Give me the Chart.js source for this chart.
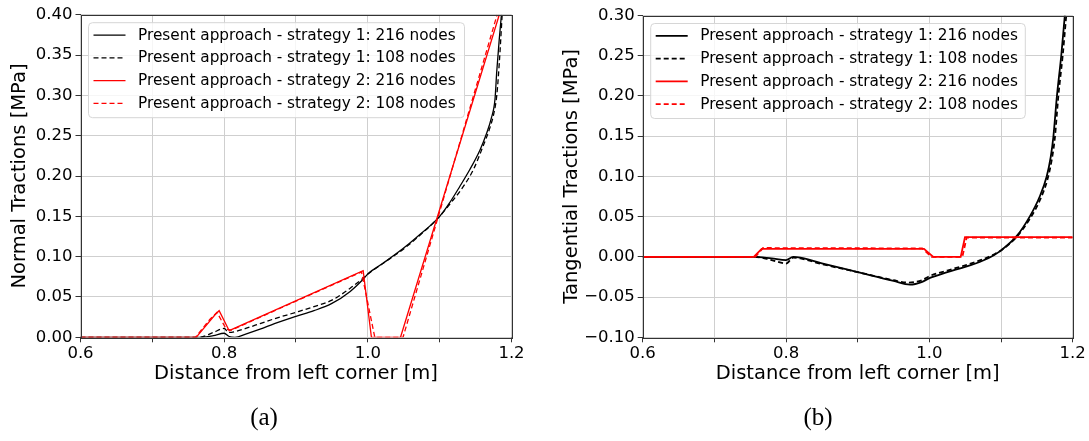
<!DOCTYPE html>
<html><head><meta charset="utf-8">
<script src="https://cdn.jsdelivr.net/npm/chart.js@4/dist/chart.umd.min.js"></script>
<style>
html,body{margin:0;padding:0;background:#fff;}
#wrap{position:relative;width:1089px;height:441px;overflow:hidden;}
canvas{position:absolute;top:0;}
</style></head><body>
<div id="wrap">
<canvas id="cA" width="545" height="441" style="left:0px"></canvas>
<canvas id="cB" width="544" height="441" style="left:545px"></canvas>
</div>
<script>
// ---------- labels ----------
const seriesLabels = [
  "Present approach - strategy 1: 216 nodes",
  "Present approach - strategy 1: 108 nodes",
  "Present approach - strategy 2: 216 nodes",
  "Present approach - strategy 2: 108 nodes"
];
const xTitle = "Distance from left corner [m]";
const yTitleA = "Normal Tractions [MPa]";
const yTitleB = "Tangential Tractions [MPa]";
const captionA = "(a)";
const captionB = "(b)";

// ---------- (a) Normal tractions ----------
const nS1_216_x = [0.6, 0.77, 0.785, 0.8, 0.807, 0.815, 0.83, 0.85, 0.87, 0.9, 0.925, 0.95, 0.975, 0.9935, 1.0, 1.021, 1.049, 1.068, 1.1, 1.114, 1.128, 1.142, 1.156, 1.165, 1.172, 1.177, 1.1795, 1.183, 1.186];
const nS1_216_y = [0, 0, 0.002, 0.005, 0.001, 0, 0.004, 0.01, 0.017, 0.026, 0.033, 0.042, 0.0566, 0.072, 0.0785, 0.0917, 0.110, 0.124, 0.15, 0.167, 0.187, 0.208, 0.232, 0.252, 0.272, 0.295, 0.33, 0.37, 0.40];
const nS1_108_x = [0.6, 0.765, 0.785, 0.8, 0.806, 0.815, 0.83, 0.85, 0.87, 0.9, 0.925, 0.95, 0.975, 0.993, 1.0, 1.021, 1.049, 1.068, 1.1, 1.114, 1.133, 1.147, 1.16, 1.17, 1.176, 1.1795, 1.183, 1.187];
const nS1_108_y = [0, 0, 0.006, 0.011, 0.006, 0.007, 0.011, 0.017, 0.023, 0.031, 0.038, 0.046, 0.0606, 0.073, 0.0785, 0.0915, 0.109, 0.123, 0.15, 0.165, 0.187, 0.208, 0.236, 0.26, 0.28, 0.30, 0.34, 0.40];
const nS2_216_x = [0.6, 0.761, 0.787, 0.793, 0.807, 0.9935, 1.005, 1.0455, 1.183];
const nS2_216_y = [0, 0, 0.0277, 0.033, 0.0082, 0.0826, 0, 0, 0.40];
const nS2_108_x = [0.6, 0.76, 0.78, 0.79, 0.803, 0.81, 0.9912, 1.0097, 1.049, 1.18];
const nS2_108_y = [0, 0, 0.022, 0.031, 0.01, 0.009, 0.081, 0, 0, 0.40];

// ---------- (b) Tangential tractions ----------
const tS1_216_x = [0.6, 0.755, 0.78, 0.8, 0.81, 0.82, 0.85, 0.9, 0.95, 0.973, 0.99, 1.0, 1.025, 1.05, 1.075, 1.09, 1.1, 1.122, 1.14, 1.154, 1.1637, 1.1693, 1.173, 1.178, 1.184, 1.189];
const tS1_216_y = [0, 0, -0.002, -0.004, 0, -0.001, -0.008, -0.019, -0.030, -0.0345, -0.031, -0.0265, -0.019, -0.0125, -0.0045, 0.002, 0.008, 0.026, 0.05, 0.075, 0.10, 0.124, 0.149, 0.20, 0.25, 0.30];
const tS1_108_x = [0.6, 0.755, 0.78, 0.8, 0.81, 0.82, 0.85, 0.9, 0.95, 0.97, 0.99, 1.0, 1.025, 1.05, 1.075, 1.09, 1.1, 1.122, 1.14, 1.155, 1.165, 1.171, 1.175, 1.18, 1.186, 1.191];
const tS1_108_y = [0, 0, -0.004, -0.0083, -0.001, -0.002, -0.009, -0.019, -0.029, -0.032, -0.029, -0.024, -0.017, -0.0105, -0.003, 0.003, 0.008, 0.025, 0.047, 0.072, 0.097, 0.122, 0.147, 0.20, 0.25, 0.30];
const tS2_216_x = [0.6, 0.755, 0.766, 0.9925, 1.0055, 1.0437, 1.0497, 1.2];
const tS2_216_y = [0, 0, 0.01, 0.01, 0, 0, 0.0244, 0.0244];
const tS2_108_x = [0.6, 0.757, 0.768, 0.99, 1.003, 1.046, 1.052, 1.2];
const tS2_108_y = [0, 0, 0.011, 0.0105, 0, 0, 0.024, 0.024];

// ---------- axis ranges / ticks ----------
const xMin = 0.6, xMax = 1.2, xStep = 0.1;
const yMinA = 0, yMaxA = 0.4, yMinB = -0.1, yMaxB = 0.3, yStep = 0.05;

const pts = (xs, ys) => xs.map((x, i) => ({x: x, y: ys[i]}));

function makeDatasets(sets, lw) {
  const colors = ['#000000', '#000000', '#ff0000', '#ff0000'];
  const dashes = [[], [5, 3], [], [5, 3]];
  return sets.map((s, i) => ({
    label: seriesLabels[i],
    data: pts(s[0], s[1]),
    borderColor: colors[i],
    backgroundColor: colors[i],
    borderWidth: lw,
    borderDash: dashes[i],
    pointRadius: 0,
    fill: false,
    tension: 0,
    cubicInterpolationMode: i < 2 ? 'monotone' : 'default',
    order: 4 - i
  }));
}

const frameLegendPlugin = {
  id: 'frameLegend',
  afterDatasetsDraw(chart, args, opts) {
    const ctx = chart.ctx, ca = chart.chartArea;
    ctx.save();
    // frame
    ctx.strokeStyle = '#333';
    ctx.lineWidth = 1;
    ctx.setLineDash([]);
    ctx.strokeRect(Math.round(ca.left) + 0.5, Math.round(ca.top) + 0.5, Math.round(ca.right - ca.left), Math.round(ca.bottom - ca.top));
    // legend
    const bx = ca.left + 8, by = ca.top + 8, bw = opts.w, bh = 95, r = 4;
    ctx.beginPath();
    ctx.moveTo(bx + r, by);
    ctx.arcTo(bx + bw, by, bx + bw, by + bh, r);
    ctx.arcTo(bx + bw, by + bh, bx, by + bh, r);
    ctx.arcTo(bx, by + bh, bx, by, r);
    ctx.arcTo(bx, by, bx + bw, by, r);
    ctx.closePath();
    ctx.fillStyle = 'rgba(255,255,255,0.8)';
    ctx.fill();
    ctx.strokeStyle = '#d6d6d6';
    ctx.stroke();
    ctx.font = '15.3px "DejaVu Sans"';
    ctx.textBaseline = 'middle';
    ctx.textAlign = 'left';
    chart.data.datasets.forEach((ds, i) => {
      const y = by + 12.4 + i * 22.75;
      ctx.beginPath();
      ctx.setLineDash(ds.borderDash || []);
      ctx.strokeStyle = ds.borderColor;
      ctx.lineWidth = ds.borderWidth;
      ctx.moveTo(bx + 5, y);
      ctx.lineTo(bx + 37, y);
      ctx.stroke();
      ctx.setLineDash([]);
      ctx.fillStyle = '#000';
      ctx.fillText(ds.label, bx + 49.5, y + 0.5);
    });
    // caption
    ctx.font = '25px "Liberation Serif"';
    ctx.textAlign = 'center';
    ctx.fillStyle = '#000';
    ctx.fillText(opts.caption, opts.capX, 418);
    ctx.restore();
  }
};

function makeChart(id, datasets, yMin, yMax, yTitle, yAxisW, yTitlePad, padRight, padTop, caption, capX, legendW) {
  return new Chart(document.getElementById(id), {
    type: 'line',
    data: {datasets: datasets},
    options: {
      responsive: false,
      animation: false,
      devicePixelRatio: 1,
      layout: {padding: {left: 0, top: padTop, right: padRight, bottom: 441 - 337.3 - 48.4}},
      plugins: {
        legend: {display: false},
        tooltip: {enabled: false},
        frameLegend: {caption: caption, capX: capX, w: legendW}
      },
      scales: {
        x: {
          type: 'linear', min: xMin, max: xMax,
          afterFit: s => { s.height = 48.4; },
          ticks: {
            stepSize: xStep, autoSkip: false, maxRotation: 0, padding: 2,
            color: '#000', font: {family: 'DejaVu Sans', size: 16.5},
            callback: v => { const r = Math.round(v * 10); return r % 2 === 0 ? (r / 10).toFixed(1) : ''; }
          },
          grid: {color: '#cfcfcf', lineWidth: 1, tickColor: '#333', tickLength: 5, drawTicks: true},
          border: {display: false},
          title: {display: true, text: xTitle, color: '#000', font: {family: 'DejaVu Sans', size: 19.5}, padding: 0}
        },
        y: {
          type: 'linear', min: yMin, max: yMax,
          afterFit: s => { s.width = yAxisW; },
          ticks: {
            stepSize: yStep, autoSkip: false, padding: 3,
            color: '#000', font: {family: 'DejaVu Sans', size: 16.5},
            callback: v => { if (Math.abs(v) < 1e-9) return '0.00'; return v.toFixed(2).replace('-', '\u2212'); }
          },
          grid: {color: '#cfcfcf', lineWidth: 1, tickColor: '#333', tickLength: 5, drawTicks: true},
          border: {display: false},
          title: {display: true, text: yTitle, color: '#000', font: {family: 'DejaVu Sans', size: 19.5}, padding: {top: yTitlePad, bottom: 0}}
        }
      }
    },
    plugins: [frameLegendPlugin]
  });
}

makeChart('cA',
  makeDatasets([[nS1_216_x, nS1_216_y], [nS1_108_x, nS1_108_y], [nS2_216_x, nS2_216_y], [nS2_108_x, nS2_108_y]], 1.3),
  yMinA, yMaxA, yTitleA, 80.5, 8.3, 545 - 511.5, 14.7, captionA, 264, 376);

makeChart('cB',
  makeDatasets([[tS1_216_x, tS1_216_y], [tS1_108_x, tS1_108_y], [tS2_216_x, tS2_216_y], [tS2_108_x, tS2_108_y]], 1.8),
  yMinB, yMaxB, yTitleB, 97.7, 15.3, 544 - 527.7, 15.5, captionB, 273, 374.6);
</script>
</body></html>
